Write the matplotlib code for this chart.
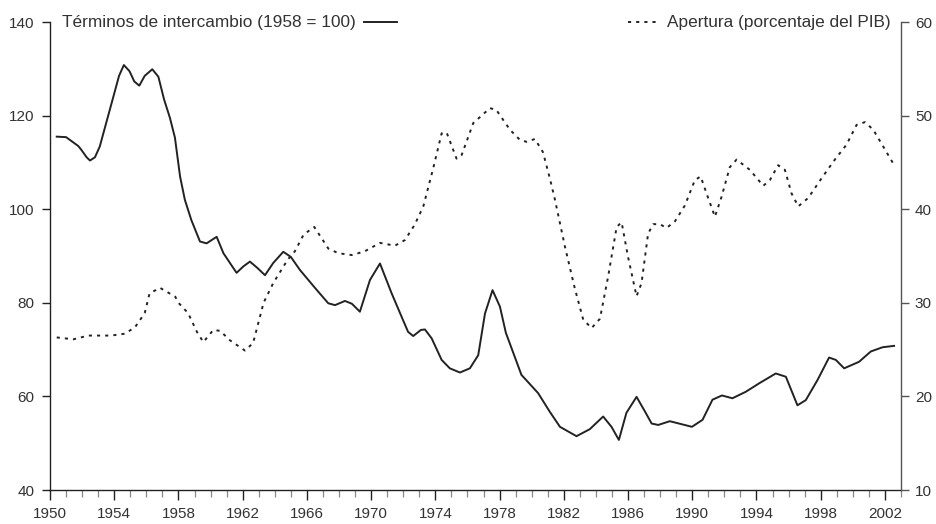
import matplotlib
matplotlib.use('Agg')
import matplotlib.pyplot as plt
from matplotlib.ticker import MultipleLocator

# Terminos de intercambio (1958 = 100)
tot_years = [1950.42, 1951.0, 1951.76, 1951.97, 1952.28, 1952.49, 1952.8, 1953.1, 1953.84,
             1954.3, 1954.6, 1954.95, 1955.25, 1955.56, 1955.9, 1956.37, 1956.75, 1957.1,
             1957.47, 1957.78, 1958.1, 1958.4, 1958.8, 1959.34, 1959.75, 1960.38, 1960.8,
             1961.62, 1962.05, 1962.45, 1962.9, 1963.39, 1963.9, 1964.53, 1965.0, 1965.57,
             1966.5, 1967.33, 1967.75, 1968.37, 1968.8, 1969.3, 1969.93, 1970.55, 1971.28,
             1971.9, 1972.3, 1972.62, 1973.1, 1973.35, 1973.77, 1974.39, 1974.9, 1975.53,
             1976.15, 1976.67, 1977.09, 1977.56, 1978.02, 1978.39, 1979.36, 1980.4, 1981.13,
             1981.76, 1982.79, 1983.62, 1984.45, 1984.97, 1985.43, 1985.9, 1986.53, 1987.05,
             1987.47, 1987.88, 1988.6, 1989.98, 1990.64, 1991.26, 1991.85, 1992.5, 1993.34,
             1994.17, 1995.2, 1995.83, 1996.55, 1997.07, 1997.8, 1998.52, 1998.94, 1999.46,
             2000.39, 2001.12, 2001.85, 2002.57]
tot_values = [115.5, 115.4, 113.5, 112.6, 111.1, 110.4, 111.1, 113.4, 122.7,
              128.5, 130.8, 129.5, 127.3, 126.4, 128.5, 129.9, 128.3, 123.5,
              119.5, 115.3, 107.0, 102.0, 97.7, 93.1, 92.7, 94.1, 90.6,
              86.4, 87.8, 88.8, 87.5, 85.9, 88.5, 90.9, 89.8, 87.0,
              83.2, 79.9, 79.5, 80.4, 79.8, 78.1, 84.9, 88.4, 82.0,
              77.0, 73.8, 72.9, 74.2, 74.3, 72.4, 67.8, 66.0, 65.1,
              66.0, 68.8, 77.7, 82.7, 79.2, 73.6, 64.6, 60.7, 56.7,
              53.5, 51.5, 53.0, 55.7, 53.5, 50.7, 56.5, 59.9, 56.8,
              54.2, 53.9, 54.7, 53.5, 55.0, 59.3, 60.2, 59.6, 61.0,
              62.8, 64.9, 64.2, 58.1, 59.2, 63.5, 68.3, 67.8, 66.0,
              67.4, 69.6, 70.5, 70.8]

# Apertura (porcentaje del PIB)
ap_years = [1950.42, 1951.45, 1952.4, 1953.8, 1954.67, 1955.3, 1955.9, 1956.2, 1956.85,
            1957.8, 1958.0, 1958.6, 1959.15, 1959.55, 1960.17, 1960.6, 1961.2, 1962.14,
            1962.65, 1963.3, 1963.9, 1964.8, 1965.25, 1965.8, 1966.46, 1967.33, 1967.95,
            1968.8, 1969.6, 1970.55, 1971.48, 1972.1, 1972.7, 1973.25, 1973.87, 1974.39,
            1974.7, 1975.32, 1975.64, 1976.36, 1977.4, 1977.8, 1978.64, 1979.27, 1979.68,
            1980.2, 1980.7, 1981.13, 1981.45, 1982.07, 1982.69, 1983.21, 1983.73, 1984.25,
            1984.76, 1985.29, 1985.6, 1986.0, 1986.53, 1986.84, 1987.25, 1987.57, 1987.98,
            1988.4, 1988.92, 1989.54, 1990.16, 1990.52, 1990.99, 1991.41, 1991.82, 1992.34,
            1992.76, 1993.59, 1994.42, 1994.83, 1995.35, 1995.77, 1996.18, 1996.6, 1997.22,
            1998.05, 1998.88, 1999.61, 2000.23, 2000.75, 2001.27, 2001.89, 2002.51]
ap_values = [26.3, 26.1, 26.5, 26.5, 26.7, 27.4, 28.9, 31.0, 31.6,
             30.65, 30.0, 28.9, 26.9, 25.8, 27.1, 27.0, 26.0, 24.9,
             25.7, 30.0, 32.1, 34.6, 35.5, 37.3, 38.1, 35.8, 35.3,
             35.1, 35.5, 36.4, 36.1, 36.7, 38.3, 40.3, 44.4, 48.1,
             48.2, 45.4, 45.8, 49.2, 50.8, 50.6, 48.5, 47.4, 47.2,
             47.5, 46.1, 43.3, 41.0, 36.0, 31.5, 28.2, 27.3, 28.3,
             32.8, 38.1, 38.6, 34.9, 30.7, 32.1, 37.4, 38.4, 38.4,
             38.0, 38.7, 40.4, 43.1, 43.5, 41.2, 39.2, 41.3, 44.5,
             45.3, 44.2, 42.5, 43.1, 44.7, 44.2, 41.7, 40.3, 41.2,
             43.3, 45.3, 46.9, 49.0, 49.3, 48.5, 46.7, 44.9]

tot_label = "Términos de intercambio (1958 = 100)"
ap_label = "Apertura (porcentaje del PIB)"
x_tick_years = list(range(1950, 2003, 4))

plt.rcParams['font.family'] = ['Liberation Sans', 'DejaVu Sans']
ink = "#222222"
txt = "#333333"
dots = (0, (1.6, 2.6))

fig = plt.figure(figsize=(9.36, 5.24), dpi=100)
ax = fig.add_axes([50 / 936, 1 - 490 / 524, 851 / 936, 468 / 524])
ax2 = ax.twinx()

ax.plot(tot_years, tot_values, color=ink, lw=1.4, solid_joinstyle='round')
ax2.plot(ap_years, ap_values, color=ink, lw=1.4, linestyle=dots)

ax.set_xlim(1950, 2003)
ax.set_ylim(40, 140)
ax2.set_ylim(10, 60)

ax.xaxis.set_major_locator(plt.FixedLocator(x_tick_years))
ax.xaxis.set_minor_locator(MultipleLocator(1))
ax.set_xticklabels([str(y) for y in x_tick_years])
ax.yaxis.set_major_locator(MultipleLocator(20))
ax2.yaxis.set_major_locator(MultipleLocator(10))

for a in (ax, ax2):
    a.spines['top'].set_visible(False)
    for s in a.spines.values():
        s.set_color(ink)
        s.set_linewidth(1.0)
    a.set_facecolor('none')

ax.spines['right'].set_visible(False)
ax2.spines['left'].set_visible(False)
ax2.spines['bottom'].set_visible(False)
ax2.spines['right'].set_color('#555555')

ax.tick_params(axis='x', which='major', direction='out', length=7, width=1.0,
               color=ink, labelsize=11, labelcolor=txt, pad=5)
ax.tick_params(axis='x', which='minor', direction='out', length=5, width=0.9,
               color='#888888')
ax.tick_params(axis='y', direction='out', length=6, width=1.0, color=ink,
               labelsize=11, labelcolor=txt, pad=5)
ax2.tick_params(axis='y', direction='out', length=6, width=1.0, color='#555555',
                labelsize=11, labelcolor=txt, pad=4)

# legend texts at the top of the plot
ax.text(0.014, 1.0, tot_label, transform=ax.transAxes, ha='left', va='center',
        fontsize=12.4, color=txt)
ax.plot([0.369, 0.408], [1.0, 1.0], transform=ax.transAxes, color=ink, lw=1.4,
        clip_on=False)
ax.text(0.988, 1.0, ap_label, transform=ax.transAxes, ha='right', va='center',
        fontsize=12.4, color=txt)
ax.plot([0.679, 0.714], [1.0, 1.0], transform=ax.transAxes, color=ink, lw=1.4,
        linestyle=dots, clip_on=False)

fig.savefig("out.png", dpi=100)
